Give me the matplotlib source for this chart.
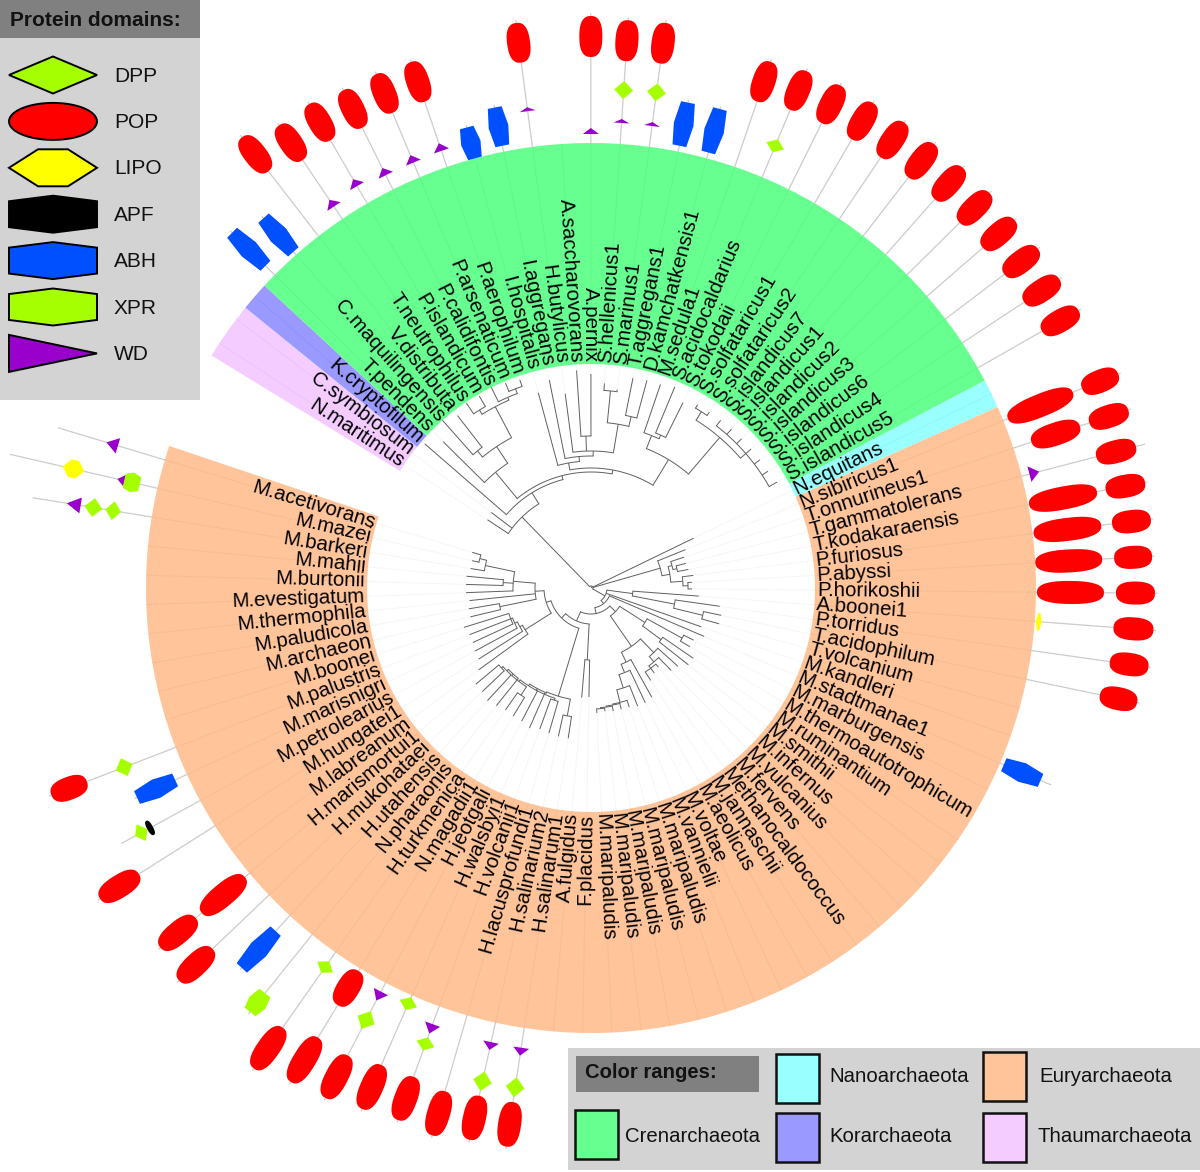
import numpy as np
import matplotlib
matplotlib.use('Agg')
import matplotlib.pyplot as plt
from matplotlib.patches import Wedge, Polygon, Rectangle

plt.rcParams['font.family'] = ['Liberation Sans', 'DejaVu Sans']

# taxa, clockwise from the gap at the upper left
thaum = ['N.maritimus', 'C.symbiosum']
kor = ['K.cryptofilum']
cren = ['T.pendens', 'C.maquilingensis', 'V.distributa', 'T.neutrophilus', 'P.islandicum',
        'P.calidifontis', 'P.arsenaticum', 'P.aerophilum', 'I.hospitalis', 'I.aggregans',
        'H.butylicus', 'A.saccharovorans', 'A.pernix', 'S.hellenicus1', 'S.marinus1',
        'T.aggregans1', 'D.kamchatkensis1', 'M.sedula1', 'S.acidocaldarius', 'S.tokodaii',
        'S.solfataricus1', 'S.solfataricus2', 'S.islandicus7', 'S.islandicus1', 'S.islandicus2',
        'S.islandicus3', 'S.islandicus6', 'S.islandicus4', 'S.islandicus5']
nano = ['N.equitans']
eury = ['N.sibiricus1', 'T.onnurineus1', 'T.gammatolerans', 'T.kodakaraensis', 'P.furiosus',
        'P.abyssi', 'P.horikoshii', 'A.boonei1', 'P.torridus', 'T.acidophilum', 'T.volcanium',
        'M.kandleri', 'M.stadtmanae1', 'M.marburgensis', 'M.thermoautotrophicum', 'M.ruminantium',
        'M.smithii', 'M.infernus', 'M.vulcanius', 'M.fervens', 'Methanocaldococcus', 'M.jannaschii',
        'M.aeolicus', 'M.voltae', 'M.vannielii', 'M.maripaludis', 'M.maripaludis', 'M.maripaludis',
        'M.maripaludis', 'M.maripaludis', 'F.placidus', 'A.fulgidus', 'H.salinarum1', 'H.salinarium2',
        'H.lacusprofundi1', 'H.volcanii1', 'H.walsbyi1', 'H.jeotgali', 'N.magadii1', 'H.turkmenica',
        'N.pharaonis', 'H.utahensis', 'H.mukohataei', 'H.marismortui1', 'M.labreanum', 'M.hungatei1',
        'M.petrolearius', 'M.marisnigri', 'M.palustris', 'M.boonei', 'M.archaeon', 'M.paludicola',
        'M.thermophila', 'M.evestigatum', 'M.burtonii', 'M.mahii', 'M.barkeri', 'M.mazei', 'M.acetivorans']
taxa = thaum + kor + cren + nano + eury

groups = ['Thaumarchaeota', 'Korarchaeota', 'Crenarchaeota', 'Nanoarchaeota', 'Euryarchaeota']
group_sizes = [len(thaum), len(kor), len(cren), len(nano), len(eury)]
group_colors = ['#f5ccff', '#9999ff', '#66ff90', '#99ffff', '#ffc499']

# protein domains as (taxon, start, end) along each line
pop_hits = [('V.distributa', 527, 570), ('T.neutrophilus', 516, 558), ('P.islandicum', 518, 560),
            ('P.calidifontis', 514, 556), ('P.arsenaticum', 515, 557), ('P.aerophilum', 514, 556),
            ('H.butylicus', 530, 570), ('A.pernix', 531, 572), ('S.hellenicus1', 528, 569),
            ('S.marinus1', 529, 570), ('M.sedula1', 514, 556), ('S.acidocaldarius', 518, 560),
            ('S.tokodaii', 519, 561), ('S.solfataricus1', 519, 561), ('S.solfataricus2', 519, 561),
            ('S.islandicus7', 519, 561), ('S.islandicus1', 519, 561), ('S.islandicus2', 519, 561),
            ('S.islandicus3', 519, 561), ('S.islandicus6', 519, 561), ('S.islandicus4', 519, 561),
            ('S.islandicus5', 519, 561), ('N.sibiricus1', 450, 520), ('N.sibiricus1', 530, 569),
            ('T.onnurineus1', 464, 515), ('T.onnurineus1', 525, 566), ('T.gammatolerans', 522, 563),
            ('T.kodakaraensis', 446, 515), ('T.kodakaraensis', 524, 564), ('P.furiosus', 446, 514),
            ('P.furiosus', 525, 564), ('P.abyssi', 445, 512), ('P.abyssi', 524, 562),
            ('P.horikoshii', 446, 513), ('P.horikoshii', 525, 564), ('A.boonei1', 524, 564),
            ('P.torridus', 524, 563), ('T.acidophilum', 520, 558), ('M.palustris', 540, 578),
            ('M.hungatei1', 535, 581), ('H.marismortui1', 451, 507), ('H.marismortui1', 515, 561),
            ('H.mukohataei', 523, 569), ('H.turkmenica', 537, 587), ('N.magadii1', 448, 488),
            ('N.magadii1', 526, 578), ('H.jeotgali', 527, 575), ('H.walsbyi1', 521, 569),
            ('H.volcanii1', 520, 566), ('H.lacusprofundi1', 524, 570), ('H.salinarium2', 520, 565),
            ('H.salinarum1', 520, 565)]
wd_hits = [('T.neutrophilus', 460, 468), ('P.islandicum', 465, 473), ('P.calidifontis', 461, 469),
           ('P.arsenaticum', 461, 469), ('P.aerophilum', 462, 470), ('H.butylicus', 481, 485),
           ('A.pernix', 454, 460), ('S.hellenicus1', 466, 470), ('S.marinus1', 466, 470),
           ('T.gammatolerans', 453, 463), ('M.acetivorans', 494, 506), ('M.mazei', 476, 486),
           ('M.barkeri', 517, 531), ('H.jeotgali', 455, 465), ('H.volcanii1', 464, 474),
           ('H.salinarium2', 465, 473), ('H.salinarum1', 465, 473)]
dpp_hits = [('S.hellenicus1', 490, 508), ('S.marinus1', 491, 509), ('S.acidocaldarius', 472, 486),
            ('M.barkeri', 476, 492), ('M.barkeri', 495, 513), ('M.palustris', 491, 509),
            ('M.petrolearius', 505, 519), ('H.turkmenica', 456, 470), ('H.jeotgali', 477, 497),
            ('H.walsbyi1', 447, 461), ('H.volcanii1', 478, 492), ('H.salinarium2', 495, 515),
            ('H.salinarum1', 495, 515)]
xpr_hits = [('M.mazei', 463, 479), ('N.pharaonis', 520, 544)]
lipo_hits = [('A.boonei1', 446, 452), ('M.mazei', 520, 542)]
apf_hits = [('M.petrolearius', 499, 505)]
abh_hits = [('T.pendens', 458, 505), ('C.maquilingensis', 449, 494), ('I.hospitalis', 445, 477),
            ('I.aggregans', 451, 490), ('T.aggregans1', 451, 495), ('D.kamchatkensis1', 451, 496),
            ('M.stadtmanae1', 449, 489), ('M.marisnigri', 458, 500), ('H.utahensis', 466, 516)]
# lines that run on past their last domain
line_ends = {'M.acetivorans': 556, 'M.mazei': 596, 'M.barkeri': 565, 'M.petrolearius': 534,
             'T.gammatolerans': 572, 'M.stadtmanae1': 500}

# tree: a node is [radius, child, child...], a bare number is a leaf at that radius
thermoproteales = [150, 208, [170, [178, 224, 218], [205, [210, 223, 222], [208, 224, [213, 222, 220]]]]]
desulfurococcales = [127, 202, [132, 212, [137, 196, [152, 218, 214], [166, [198, 205, 200], [176, 214, 215]]]]]
sulfolobales = [150, [164, 215, [168, 218, 207]],
                [172, [198, [208, 212, 212], [205, 212, 212, 212, 212, 212, 212, 214]]]]
crenarch = [99, 124, 125, [112, 220, [116, thermoproteales, [120, desulfurococcales, sulfolobales]]]]
thermococci = [72, 102, [80, [84, 98, [88, 98, 99]], [92, 103, [97, 101, 101]]]]
thermoplasma = [42, 108, [85, 130, [115, 133, 133]]]
mbacteria = [64, [104, 115, 115], [87, 124, 124]]
mcocci = [71, [90, 117, [97, 115, [100, 104, 106, 110]]],
          [82, 125, [91, 127, [105, 127, [118, 125, [119, 125, [120, 125, [121, 124, 125]]]]]]]]
archaeoglobi = [72, 109, 110]
halo = [113, [130, 152, 152],
        [116, [118, 151, 150],
         [114, 153, [116, 150, [118, [128, 150, 149],
                                [116, 151, [118, 153, [120, 150, 150]]]]]]]]
mmicrobiales = [78, 139, [81, 133, [84, 132, [86, 130, 130, 133]]]]
msarcinales = [56, [93, 124, 124], 122,
               [78, 125, [88, 125, 125], [108, 122, [115, 122, 124]]]]
euryrest = [16, thermoplasma, 117,
            [20, 123, [26, [34, mbacteria, mcocci],
                       [36, archaeoglobi, [42, halo, [47, mmicrobiales, msarcinales]]]]]]
tree = [2, crenarch, 114, thermococci, euryrest]

CX, CY = 591, 588
R_IN, R_OUT = 224, 445
START = 148.5
STEP = 3.773

tree_color = '#5f5f5f'
ticks = START - (np.arange(len(taxa)) + 0.5) * STEP
taxon_angle = dict(zip(taxa, ticks))


def polar(r, a):
    t = np.radians(a)
    return CX + r * np.cos(t), CY - r * np.sin(t)


def band(r, a, v):
    # r along the line, v across it
    t = np.radians(a)
    x = CX + r * np.cos(t) + v * np.sin(t)
    y = CY - r * np.sin(t) + v * np.cos(t)
    return np.column_stack([x, y])


fig = plt.figure(figsize=(12, 11.72), dpi=100)
ax = fig.add_axes([0, 0, 1, 1])
ax.set_xlim(0, 1200)
ax.set_ylim(1172, 0)
ax.axis('off')

# colour ranges
pos = 0
for size, color in zip(group_sizes, group_colors):
    a1 = START - pos * STEP
    a2 = START - (pos + size) * STEP
    ax.add_patch(Wedge((CX, CY), R_OUT, -a1, -a2, width=R_OUT - R_IN, fc=color, ec='none', zorder=1))
    pos += size

leaf_r = []


def draw_node(node, parent_r):
    # returns the angle of this node, walks the leaves clockwise
    if not isinstance(node, list):
        a = ticks[len(leaf_r)]
        leaf_r.append(node)
        x, y = zip(polar(parent_r, a), polar(node, a))
        ax.plot(x, y, color=tree_color, lw=0.7, zorder=3, solid_capstyle='butt')
        return a
    r = node[0]
    angles = [draw_node(k, r) for k in node[1:]]
    a = (angles[0] + angles[-1]) / 2
    x, y = polar(r, np.linspace(angles[0], angles[-1], 30))
    ax.plot(x, y, color=tree_color, lw=0.7, zorder=3)
    x, y = zip(polar(parent_r, a), polar(r, a))
    ax.plot(x, y, color=tree_color, lw=0.7, zorder=3, solid_capstyle='butt')
    return a


draw_node(tree, 0)
assert len(leaf_r) == len(taxa)

# faint leader from each tip out through the ring
for a, r in zip(ticks, leaf_r):
    x, y = zip(polar(r, a), polar(R_OUT, a))
    ax.plot(x, y, color='black', alpha=0.035, lw=0.8, zorder=2)

# labels
for name, a in zip(taxa, ticks):
    x, y = polar(R_IN + 2, a)
    left = np.cos(np.radians(a)) < -1e-9 or a > 90.5
    ax.text(x, y, name, fontsize=14.8, color='black', rotation=a + 180 if left else a,
            ha='right' if left else 'left', va='center', rotation_mode='anchor', zorder=4)

# domain shapes, u goes 0..1 along the line and v -1..1 across it
t = np.linspace(0, 2 * np.pi, 60)
pop_shape = (0.5 + 0.5 * np.sign(np.cos(t)) * np.abs(np.cos(t)) ** 0.8,
             np.sign(np.sin(t)) * np.abs(np.sin(t)) ** 0.8)
dpp_shape = ([0, 0.5, 1, 0.5], [0, 1, 0, -1])
lipo_shape = ([0, 0.33, 0.67, 1, 0.67, 0.33], [0, 1, 1, 0, -1, -1])
hex_shape = ([0, 0.5, 1, 1, 0.5, 0], [0.7, 1, 0.7, -0.7, -1, -0.7])
wd_shape = ([0, 1, 0], [1, 0, -1])

domain_styles = [(pop_hits, pop_shape, '#ff0000', 11.5),
                 (wd_hits, wd_shape, '#9900cc', 8),
                 (dpp_hits, dpp_shape, '#a6ff00', 9.5),
                 (xpr_hits, hex_shape, '#a6ff00', 10),
                 (lipo_hits, lipo_shape, '#ffff00', 9),
                 (apf_hits, pop_shape, '#000000', 8),
                 (abh_hits, hex_shape, '#0050ff', 10)]

# backbone lines first
ends = {}
for hits, shape, color, half in domain_styles:
    for name, start, end in hits:
        ends[name] = max(ends.get(name, 0), end + 2)
ends.update(line_ends)
for name, end in ends.items():
    a = taxon_angle[name]
    x, y = zip(polar(R_OUT, a), polar(end, a))
    ax.plot(x, y, color='#cccccc', lw=0.9, zorder=5)

for hits, shape, color, half in domain_styles:
    for name, start, end in hits:
        u = np.asarray(shape[0], float)
        v = np.asarray(shape[1], float)
        pts = band(start + u * (end - start), taxon_angle[name], v * half)
        ax.add_patch(Polygon(pts, closed=True, fc=color, ec='none', zorder=6))

# protein domain legend
legend_names = ['DPP', 'POP', 'LIPO', 'APF', 'ABH', 'XPR', 'WD']
legend_colors = ['#a6ff00', '#ff0000', '#ffff00', '#000000', '#0050ff', '#a6ff00', '#9900cc']
legend_shapes = [dpp_shape, (0.5 + 0.5 * np.cos(t), np.sin(t)), lipo_shape, hex_shape, hex_shape, hex_shape, wd_shape]
ax.add_patch(Rectangle((0, 0), 200, 400, fc='#d3d3d3', ec='none', zorder=7))
ax.add_patch(Rectangle((0, 0), 200, 38, fc='#808080', ec='none', zorder=8))
ax.text(10, 21, 'Protein domains:', fontsize=15, fontweight='bold', va='center', ha='left', color='#111111', zorder=9)
for i, (name, color, shape) in enumerate(zip(legend_names, legend_colors, legend_shapes)):
    yc = 75 + i * 46.4
    pts = np.column_stack([9 + np.asarray(shape[0], float) * 88, yc + np.asarray(shape[1], float) * 18.5])
    ax.add_patch(Polygon(pts, closed=True, fc=color, ec='black', lw=1.4, zorder=9))
    ax.text(114, yc + 1, name, fontsize=15, va='center', ha='left', color='#111111', zorder=9)

# colour range legend
ax.add_patch(Rectangle((568, 1048), 632, 122, fc='#d3d3d3', ec='none', zorder=7))
ax.add_patch(Rectangle((576, 1056), 183, 36, fc='#808080', ec='none', zorder=8))
ax.text(585, 1073, 'Color ranges:', fontsize=14.6, fontweight='bold', va='center', ha='left', color='#111111', zorder=9)
swatch_x = [983, 776, 575, 776, 983]
swatch_y = [1113, 1113, 1110, 1054, 1052]
text_x = [1037, 829, 625, 829, 1039]
text_y = [1137, 1137, 1137, 1077, 1076]
for g, color, sx, sy, tx, ty in zip(groups, group_colors, swatch_x, swatch_y, text_x, text_y):
    ax.add_patch(Rectangle((sx, sy), 43, 49, fc=color, ec='#111111', lw=1.8, zorder=9))
    ax.text(tx, ty, g, fontsize=14.7, va='center', ha='left', color='#111111', zorder=9)

fig.savefig('out.png', dpi=100)
